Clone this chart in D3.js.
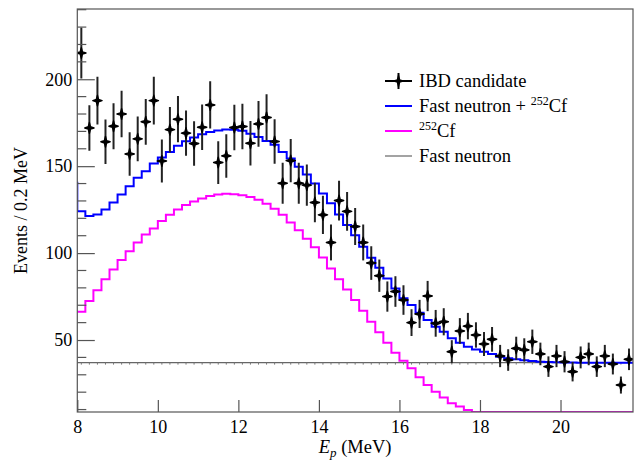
<!DOCTYPE html>
<html>
<head>
<meta charset="utf-8">
<script src="https://cdn.jsdelivr.net/npm/d3@7"></script>
<style>
  body { margin: 0; background: #fff; }
  svg { display: block; }
  svg text { font-family: 'Liberation Serif', 'Times New Roman', Times, serif; }
</style>
</head>
<body>
<div id="chart"></div>
<script>
// Binning: 0.2 MeV bins from 8.0 to 21.8 MeV
const eMin = 8.0, eMax = 21.8, binW = 0.2

// IBD candidate counts per bin
const ibdCounts = [
  215.1, 172.0, 187.7, 164.0, 173.0, 180.0, 157.0, 165.7, 175.5, 187.7,
  153.0, 171.0, 177.0, 169.0, 163.0, 172.4, 185.2, 152.1, 155.9, 172.2,
  172.8, 163.2, 174.3, 178.0, 164.2, 140.2, 153.2, 140.2, 139.1, 129.1,
  122.0, 106.1, 130.2, 124.0, 115.3, 106.1, 94.3, 87.0, 75.0, 77.9,
  73.0, 60.0, 65.0, 75.3, 59.6, 60.5, 43.3, 55.2, 58.0, 52.9,
  47.7, 50.4, 40.8, 38.5, 45.2, 44.3, 49.0, 42.0, 34.7, 40.8,
  37.5, 31.8, 40.0, 42.0, 34.7, 40.8, 36.2, 24.1, 38.9
]
const ibdErrors = [
  14.7, 13.1, 13.7, 12.8, 13.2, 13.4, 12.5, 12.9, 13.2, 13.7,
  12.4, 13.1, 13.3, 13.0, 12.8, 13.1, 13.6, 12.3, 12.5, 13.1,
  13.1, 12.8, 13.2, 13.3, 12.8, 11.8, 12.4, 11.8, 11.8, 11.4,
  11.0, 10.3, 11.4, 11.1, 10.7, 10.3, 9.7, 9.3, 8.7, 8.8,
  8.5, 7.7, 8.1, 8.7, 7.7, 7.8, 6.6, 7.4, 7.6, 7.3,
  6.9, 7.1, 6.4, 6.2, 6.7, 6.7, 7.0, 6.5, 5.9, 6.4,
  6.1, 5.6, 6.3, 6.5, 5.9, 6.4, 6.0, 4.9, 6.2
]

// Fast neutron + 252Cf (blue histogram); value of the bin just below 8 MeV
const totalUnderflow = 141.0
const totalFit = [
  124.1, 121.3, 122.2, 125.1, 129.1, 133.7, 138.5, 143.3, 147.1, 151.5,
  155.0, 158.2, 161.7, 164.4, 166.5, 168.4, 169.7, 170.5, 171.1, 170.9,
  170.3, 168.6, 166.8, 164.5, 162.3, 158.2, 154.4, 149.6, 145.2, 140.0,
  134.3, 128.6, 122.2, 116.1, 110.3, 103.6, 97.3, 91.6, 85.4, 79.7,
  74.0, 70.1, 65.7, 61.5, 57.7, 54.8, 51.0, 48.5, 46.2, 44.6,
  43.3, 42.0, 40.4, 39.5, 38.9, 38.3, 37.9, 37.5, 37.3, 37.2,
  37.1, 37.1, 37.0, 37.0, 37.0, 37.0, 37.0, 37.0, 37.0
]

// 252Cf component (magenta histogram)
const cfFit = [
  66.3, 72.4, 78.7, 84.9, 90.6, 96.0, 101.1, 106.1, 110.7, 114.2,
  118.4, 122.0, 125.1, 127.6, 129.7, 131.4, 132.9, 133.7, 134.1, 133.9,
  133.3, 132.2, 130.7, 128.4, 125.5, 122.0, 117.6, 113.2, 108.3, 103.3,
  97.5, 91.2, 85.0, 79.1, 73.0, 66.8, 60.5, 54.4, 48.5, 42.7,
  38.1, 33.7, 28.6, 24.1, 20.3, 17.0, 13.6, 11.7, 9.8, 7.6,
  6.3, 5.0, 3.4, 2.5, 1.9, 1.3, 0.9, 0.5, 0.3, 0.2,
  0, 0, 0, 0, 0, 0, 0, 0, 0
]

// Fast neutron component (flat)
const fastNeutronLevel = 37.0

const xTicks = [8, 10, 12, 14, 16, 18, 20]
const yTicks = [50, 100, 150, 200]
const yMinorTicks = [10, 20, 30, 40, 60, 70, 80, 90, 110, 120, 130, 140, 160, 170, 180, 190, 210, 220, 230, 240]

const legendItems = [
  { key: 'ibd', label: 'IBD candidate' },
  { key: 'total', label: 'Fast neutron + ', sup: '252', tail: 'Cf' },
  { key: 'cf', label: '', sup: '252', tail: 'Cf' },
  { key: 'fn', label: 'Fast neutron' }
]

const W = 643, H = 462
const margin = { top: 9, right: 10, bottom: 50, left: 77.3 }
const font = "'Liberation Serif', 'Times New Roman', Times, serif"

const svg = d3.select('#chart').append('svg')
  .attr('width', W).attr('height', H)

const x = d3.scaleLinear().domain([eMin, eMax]).range([margin.left, W - margin.right])
const y = d3.scaleLinear().domain([8.6, 240.4]).range([H - margin.bottom, margin.top]).clamp(true)

svg.append('clipPath').attr('id', 'plotclip')
  .append('rect')
  .attr('x', x(eMin)).attr('y', y(240.4))
  .attr('width', x(eMax) - x(eMin)).attr('height', y(8.6) - y(240.4))

const plot = svg.append('g').attr('clip-path', 'url(#plotclip)')

const edge = i => eMin + binW * i
const center = i => eMin + binW * (i + 0.5)

// step histogram path
function stepPoints(vals, under) {
  const pts = []
  if (under != null) pts.push([edge(0), under])
  vals.forEach((v, i) => pts.push([edge(i), v]))
  pts.push([edge(vals.length), vals[vals.length - 1]])
  return pts
}
const stepLine = d3.line().x(d => x(d[0])).y(d => y(d[1])).curve(d3.curveStepAfter)

// fast neutron line + its tiny error ticks
plot.append('line')
  .attr('x1', x(eMin)).attr('x2', x(eMax))
  .attr('y1', y(fastNeutronLevel)).attr('y2', y(fastNeutronLevel))
  .attr('stroke', '#666').attr('stroke-width', 1.2)
plot.selectAll('.fnerr').data(ibdCounts).enter().append('line')
  .attr('x1', (d, i) => x(center(i))).attr('x2', (d, i) => x(center(i)))
  .attr('y1', y(fastNeutronLevel)).attr('y2', y(fastNeutronLevel) + 2)
  .attr('stroke', '#777').attr('stroke-width', 1)

plot.append('path')
  .attr('d', stepLine(stepPoints(cfFit)))
  .attr('fill', 'none').attr('stroke', '#ff00ff').attr('stroke-width', 2)

plot.append('path')
  .attr('d', stepLine(stepPoints(totalFit, totalUnderflow)))
  .attr('fill', 'none').attr('stroke', '#0000ff').attr('stroke-width', 2)

// data points
const marker = 'M-4.6,0 L-1.1,-1.1 L0,-5.3 L1.1,-1.1 L4.6,0 L1.1,1.1 L0,5.3 L-1.1,1.1 Z'
const pts = plot.selectAll('.pt').data(ibdCounts).enter().append('g')
  .attr('transform', (d, i) => `translate(${x(center(i))},${y(d)})`)
pts.append('line')
  .attr('y1', (d, i) => y(d + ibdErrors[i]) - y(d))
  .attr('y2', (d, i) => y(d - ibdErrors[i]) - y(d))
  .attr('stroke', '#222').attr('stroke-width', 2)
pts.append('path').attr('d', marker).attr('fill', '#000')
  .attr('stroke', '#000').attr('stroke-width', 1.5).attr('stroke-linejoin', 'round')

// frame
const axisColor = '#555'
svg.append('rect')
  .attr('x', x(eMin)).attr('y', y(240.4))
  .attr('width', x(eMax) - x(eMin)).attr('height', y(8.6) - y(240.4))
  .attr('fill', 'none').attr('stroke', axisColor).attr('stroke-width', 1.2)

// x axis (ticks pointing inward)
const xAxis = svg.append('g')
  .attr('transform', `translate(0,${y(8.6)})`)
  .call(d3.axisBottom(x).tickValues(xTicks).tickSize(-12).tickPadding(8).tickFormat(d3.format('d')))
xAxis.attr('font-family', null)
xAxis.select('.domain').remove()
xAxis.selectAll('.tick line').attr('stroke', axisColor).attr('stroke-width', 1.2)
xAxis.selectAll('.tick text').attr('fill', '#000').style('font-size', '18px').style('font-family', font)

// y axis
const yAxis = svg.append('g')
  .attr('transform', `translate(${x(eMin)},0)`)
  .call(d3.axisLeft(y).tickValues(yTicks).tickSize(-17.5).tickPadding(5).tickFormat(d3.format('d')))
yAxis.attr('font-family', null)
yAxis.select('.domain').remove()
yAxis.selectAll('.tick line').attr('stroke', axisColor).attr('stroke-width', 1.2)
yAxis.selectAll('.tick text').attr('fill', '#000').style('font-size', '18px').style('font-family', font)

svg.append('g').selectAll('line').data(yMinorTicks).enter().append('line')
  .attr('x1', x(eMin)).attr('x2', x(eMin) + 9)
  .attr('y1', d => y(d)).attr('y2', d => y(d))
  .attr('stroke', axisColor).attr('stroke-width', 1.2)

// axis titles
const xt = svg.append('text')
  .attr('x', (x(eMin) + x(eMax)) / 2).attr('y', 453)
  .attr('text-anchor', 'middle').style('font-size', '18.5px')
xt.append('tspan').style('font-style', 'italic').text('E')
xt.append('tspan').style('font-style', 'italic').style('font-size', '13px').attr('dy', 4).text('p')
xt.append('tspan').attr('dy', -4).text(' (MeV)')

svg.append('text')
  .attr('transform', `translate(27,${(y(8.6) + y(240.4)) / 2}) rotate(-90)`)
  .attr('text-anchor', 'middle').style('font-size', '18px')
  .text('Events / 0.2 MeV')

// legend
const lg = svg.append('g').attr('transform', 'translate(385,81)')
legendItems.forEach((it, i) => {
  const row = lg.append('g').attr('transform', `translate(0,${i * 25})`)
  const stroke = { ibd: '#000', total: '#0000ff', cf: '#ff00ff', fn: '#666' }[it.key]
  row.append('line').attr('x1', 0).attr('x2', 27).attr('y1', 0).attr('y2', 0)
    .attr('stroke', stroke).attr('stroke-width', it.key === 'fn' ? 1.2 : 2)
  if (it.key === 'ibd') {
    row.append('line').attr('x1', 13.5).attr('x2', 13.5).attr('y1', -8).attr('y2', 8)
      .attr('stroke', '#000').attr('stroke-width', 2)
    row.append('path').attr('d', marker).attr('transform', 'translate(13.5,0)')
      .attr('fill', '#000').attr('stroke', '#000').attr('stroke-width', 1.5)
  }
  const t = row.append('text').attr('x', 34).attr('y', 6).style('font-size', '18.5px')
  t.append('tspan').text(it.label)
  if (it.sup) {
    t.append('tspan').style('font-size', '12px').attr('dy', -7.5).text(it.sup)
    t.append('tspan').attr('dy', 7.5).text(it.tail)
  }
})
</script>
</body>
</html>
